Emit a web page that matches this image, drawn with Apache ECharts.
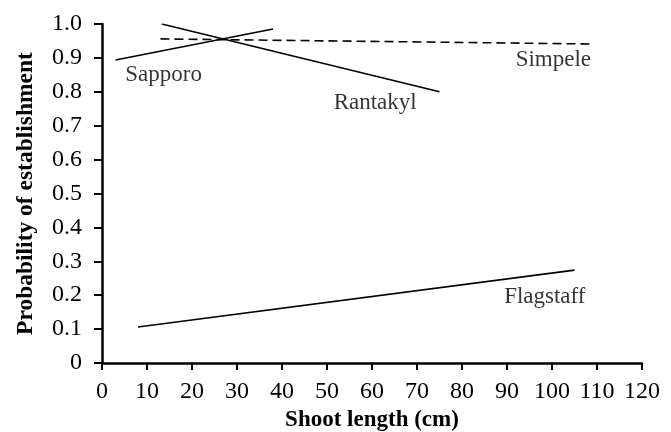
<!DOCTYPE html>
<html><head><meta charset="utf-8">
<script src="https://cdn.jsdelivr.net/npm/echarts@6/dist/echarts.min.js"></script>
<style>html,body{margin:0;padding:0;background:#fff}#c{width:671px;height:432px}</style>
</head><body><div id="c"></div>
<script>
const xTicks = [0,10,20,30,40,50,60,70,80,90,100,110,120];
const yTicks = [0,0.1,0.2,0.3,0.4,0.5,0.6,0.7,0.8,0.9,1.0];
const sapporoX = [3, 38];
const sapporoY = [0.894, 0.985];
const rantakylX = [13.3, 75];
const rantakylY = [1.0, 0.80];
const simpeleX = [13, 109];
const simpeleY = [0.956, 0.941];
const flagstaffX = [8, 105];
const flagstaffY = [0.106, 0.274];
const labelNames = ['Sapporo','Rantakyl','Simpele','Flagstaff'];
const labelX = [13.7, 60.7, 100.3, 98.4];
const labelY = [0.85, 0.767, 0.894, 0.195];

const font = '"Liberation Serif","Times New Roman",serif';
function pts(xs, ys){ return xs.map((x,i)=>[x, ys[i]]); }
function lineSeries(xs, ys, dashed){
  return {type:'line', data:pts(xs,ys), symbol:'none', silent:true,
    lineStyle:{color:'#000', width:1.6, type: dashed ? [9,5] : 'solid'}};
}
const chart = echarts.init(document.getElementById('c'), null, {renderer:'canvas'});
chart.setOption({
  animation:false,
  grid:{left:102, right:29, top:24, bottom:69, containLabel:false, outerBoundsMode:'none'},
  xAxis:{type:'value', min:0, max:120, interval:10,
    name:'Shoot length (cm)', nameLocation:'middle', nameGap:46, nameMoveOverlap:false,
    nameTextStyle:{fontFamily:font, fontWeight:'bold', fontSize:23, color:'#000'},
    axisLine:{show:true, lineStyle:{color:'#000', width:2.5}},
    axisTick:{show:true, inside:false, length:7, lineStyle:{color:'#000', width:2}},
    axisLabel:{fontFamily:font, fontSize:24, margin:17, color:'#000'},
    splitLine:{show:false}},
  yAxis:{type:'value', min:0, max:1, interval:0.1,
    name:'Probability of establishment', nameLocation:'middle', nameGap:64, nameMoveOverlap:false,
    nameTextStyle:{fontFamily:font, fontWeight:'bold', fontSize:23.5, color:'#000'},
    axisLine:{show:true, lineStyle:{color:'#000', width:2.5}},
    axisTick:{show:true, inside:false, length:8, lineStyle:{color:'#000', width:2}},
    axisLabel:{fontFamily:font, fontSize:24, margin:20, color:'#000',
      formatter:v=> v===0 ? '0' : v.toFixed(1)},
    splitLine:{show:false}},
  series:[
    lineSeries(sapporoX, sapporoY, false),
    lineSeries(rantakylX, rantakylY, false),
    lineSeries(simpeleX, simpeleY, true),
    lineSeries(flagstaffX, flagstaffY, false),
    {type:'scatter', symbolSize:0, silent:true,
     data: labelNames.map((n,i)=>({name:n, value:[labelX[i], labelY[i]]})),
     label:{show:true, position:'inside', formatter:p=>p.name,
       fontFamily:font, fontSize:23, color:'#000'}}
  ]
});
</script></body></html>
